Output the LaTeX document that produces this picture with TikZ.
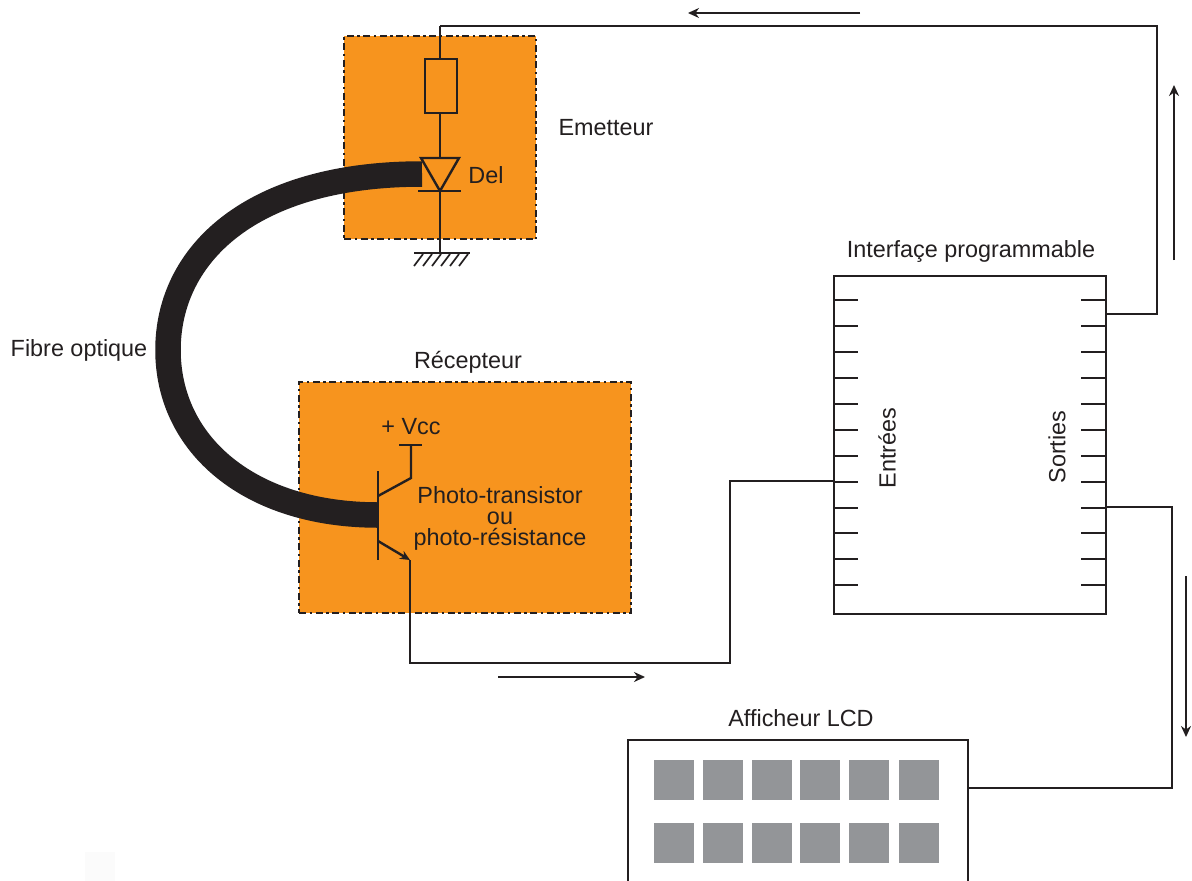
\documentclass[tikz,border=0pt]{standalone}
\usepackage{fontspec}
\setmainfont{Liberation Sans}
\usetikzlibrary{arrows.meta}
\definecolor{ink}{HTML}{231F20}
\definecolor{orangebox}{HTML}{F7941E}
\definecolor{lcdgrey}{HTML}{939598}
\tikzset{
  wire/.style={draw=ink,line width=2.4pt,line join=miter},
  orangepanel/.style={draw=ink,fill=orangebox,line width=2.2pt,dash pattern=on 7pt off 3.5pt on 2.5pt off 3.5pt,inner sep=0pt,outer sep=0pt,anchor=north west},
  label/.style={text=ink,font=\fontsize{23.4}{21}\selectfont,inner sep=0pt},
  flow/.style={draw=ink,line width=1.7pt,-{Stealth[length=11pt,width=10pt]}},
  tick/.style={draw=ink,line width=1.2pt},
  fibre/.style={draw=ink,line width=25.5pt,line cap=butt},
  block/.style={draw=ink,line width=2.5pt,fill=white,inner sep=0pt,outer sep=0pt,anchor=north west},
  cell/.style={fill=lcdgrey,minimum width=40pt,minimum height=40pt,inner sep=0pt,outer sep=0pt,anchor=north west}
}
\begin{document}
\begin{tikzpicture}[x=1pt,y=-1pt]
\path[use as bounding box,clip] (0,0) rectangle (1192,881);
\fill[white] (0,0) rectangle (1192,881);
\fill[black!1.5] (85,852) rectangle (115,881);

% panels
\node[orangepanel,minimum width=192pt,minimum height=203pt] (emitbox) at (344,36) {};
\node[orangepanel,minimum width=332pt,minimum height=231pt] (recvbox) at (299,382) {};

% emitter circuit
\coordinate (topcorner) at (440,26);
\coordinate (gnd) at (440,253);
\node[draw=ink,line width=2.4pt,minimum width=32pt,minimum height=54pt,inner sep=0pt,outer sep=0pt] (res) at (441,86) {};
\coordinate (dtop) at (440,158);
\coordinate (dtip) at (440,191);
\draw[wire] (topcorner) -- (res.north -| topcorner);
\draw[wire] (res.south -| dtop) -- (dtop);
\draw[wire,line join=miter] (421,158) -- (459,158) -- (dtip) -- cycle;
\draw[wire] (418,191) -- (461,191);
\draw[wire] (dtip) -- (gnd);
\draw[wire] (414,253) -- (470,253);
\foreach \x in {423,432,441,450,459,468} \draw[draw=ink,line width=1.7pt] (\x,254) -- (\x-9,266);

% fibre
\coordinate (fibreA) at (422,174);
\coordinate (fibreB) at (378,515);
\draw[fibre] (fibreA) .. controls (250,174) and (168,255) .. (168,350) .. controls (168,445) and (250,515) .. (fibreB);

% transistor
\coordinate (base1) at (378,471);
\coordinate (base2) at (378,560);
\coordinate (coll) at (411,478);
\coordinate (vcc) at (411,445);
\coordinate (emit) at (410,560);
\draw[wire] (base1) -- (base2);
\draw[wire] (378,496) -- (coll) -- (vcc);
\draw[wire] (399,445) -- (422,445);
\draw[draw=ink,line width=2.4pt,-{Stealth[length=10pt,width=9pt]}] (378,541) -- (emit);

% interface
\node[block,minimum width=272pt,minimum height=338pt] (iface) at (834,276) {};
\foreach \y in {300,326,352,378,404,430,456,482,508,533,559,585}{
  \draw[tick] (834,\y) -- (858,\y);
  \draw[tick] (1081,\y) -- (1106,\y);
}

% LCD
\node[block,minimum width=340pt,minimum height=170pt] (lcd) at (628,740) {};
\foreach \x in {654,703,752,800,849,899}{
  \node[cell] at (\x,760) {};
  \node[cell] at (\x,823) {};
}

% connectors
\coordinate (outTop) at (1106,314);
\coordinate (outLow) at (1106,507);
\coordinate (inLeft) at (834,481);
\coordinate (lcdIn) at (968,788);
\coordinate (rt) at (1157,26);
\draw[wire] (topcorner) -- (rt) -- (rt |- outTop) -- (outTop);
\draw[wire] (outLow) -- (1172,507) -- (1172,788) -- (lcdIn);
\draw[wire] (emit) -- (410,663) -- (730,663) -- (730,481) -- (inLeft);

% flow arrows
\coordinate (fa1) at (860,13); \coordinate (fa2) at (688,13);
\coordinate (fb1) at (1174,260); \coordinate (fb2) at (1174,85);
\coordinate (fc1) at (1186,576); \coordinate (fc2) at (1186,737);
\coordinate (fd1) at (498,677); \coordinate (fd2) at (645,677);
\draw[flow] (fa1) -- (fa2);
\draw[flow] (fb1) -- (fb2);
\draw[flow] (fc1) -- (fc2);
\draw[flow] (fd1) -- (fd2);

% labels
\node[label] (t1) at (606,128) {Emetteur};
\node[label] (t2) at (486,175) {Del};
\node[label] (t3) at (971,251) {Interfaçe programmable};
\node[label] (t4) at (79,350) {Fibre optique};
\node[label] (t5) at (468,362) {Récepteur};
\node[label] (t6) at (411,427) {+ Vcc};
\node[label,align=center] (t7) at (500,518) {Photo-transistor\\ou\\photo-résistance};
\node[label,rotate=90] (t10) at (887,448) {Entrées};
\node[label,rotate=90] (t11) at (1057,447) {Sorties};
\node[label] (t12) at (801,718) {Afficheur LCD};
\end{tikzpicture}
\end{document}
